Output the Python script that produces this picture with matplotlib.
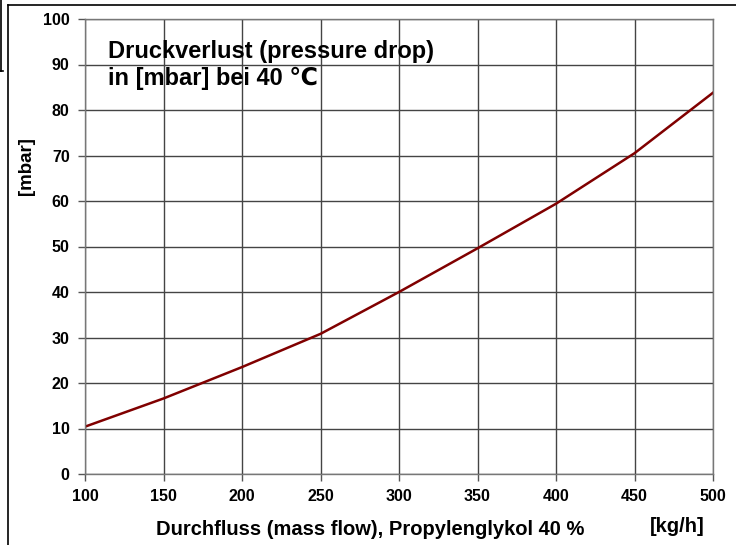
import matplotlib.pyplot as plt
from matplotlib.lines import Line2D

# mass flow [kg/h] and pressure drop [mbar]
flow = [100, 150, 200, 250, 300, 350, 400, 450, 500]
dp = [10.4, 16.6, 23.5, 30.8, 40.0, 49.6, 59.4, 70.5, 83.8]

xticks = [100, 150, 200, 250, 300, 350, 400, 450, 500]
yticks = [0, 10, 20, 30, 40, 50, 60, 70, 80, 90, 100]

plt.rcParams['font.family'] = ['Liberation Sans', 'DejaVu Sans']
plt.rcParams['font.weight'] = 'bold'

fig = plt.figure(figsize=(7.36, 5.45), dpi=100)
W, H = 736, 545
ax = fig.add_axes([85 / W, 1 - 474 / H, (713 - 85) / W, (474 - 19) / H])

ax.plot(flow, dp, color='#800000', linewidth=1.8)

ax.set_xlim(100, 500)
ax.set_ylim(0, 100)
ax.set_xticks(xticks)
ax.set_yticks(yticks)
ax.tick_params(direction='out', length=5, width=1, color='#555555', labelsize=11.5, pad=6)
for lab in ax.get_xticklabels() + ax.get_yticklabels():
	lab.set_fontweight('bold')
ax.grid(True, color='#444444', linewidth=1)
for s in ax.spines.values():
	s.set_color('#777777')
	s.set_linewidth(1)

def px_text(x, y, s, **kw):
	fig.text(x / W, 1 - y / H, s, fontweight='bold', **kw)

px_text(108, 58, 'Druckverlust (pressure drop)', fontsize=17, ha='left', va='baseline')
px_text(108, 85, 'in [mbar] bei 40 \u2103', fontsize=17, ha='left', va='baseline')

px_text(370, 535, 'Durchfluss (mass flow), Propylenglykol 40 %', fontsize=14.5, ha='center', va='baseline')
px_text(677, 532, '[kg/h]', fontsize=14.5, ha='center', va='baseline')
px_text(27, 166, '[mbar]', fontsize=13.5, ha='center', va='center', rotation=90)

# outer frame lines
def px_line(x0, y0, x1, y1, lw=1.2):
	fig.add_artist(Line2D([x0 / W, x1 / W], [1 - y0 / H, 1 - y1 / H], color='black', linewidth=lw,
		transform=fig.transFigure))

px_line(8, 5, 736, 5)
px_line(8, 5, 8, 545)
px_line(1, 0, 1, 71)
px_line(0, 71, 3, 71)

fig.savefig('out.png', dpi=100)
